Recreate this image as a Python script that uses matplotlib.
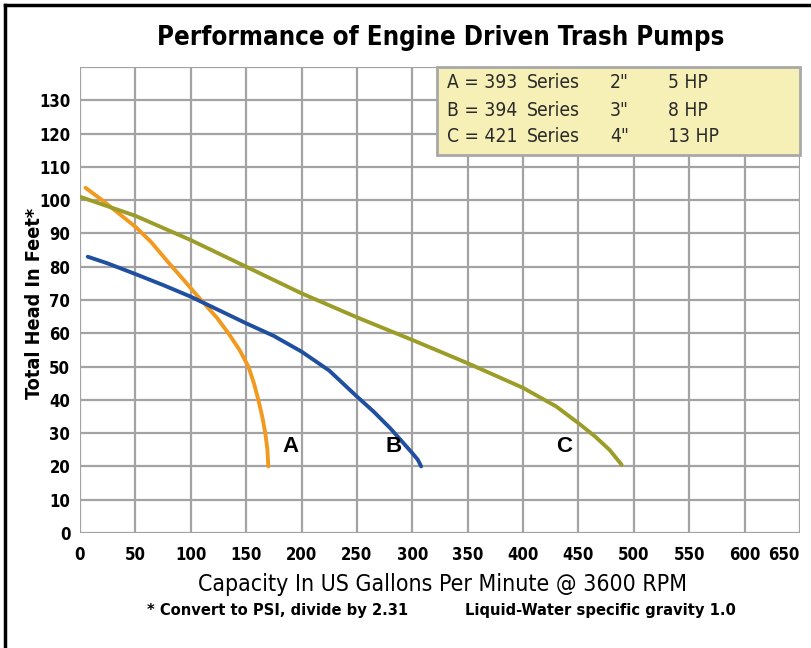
import matplotlib
matplotlib.use("Agg")
import matplotlib.pyplot as plt
from matplotlib.patches import Rectangle
from matplotlib.lines import Line2D
from matplotlib import font_manager as fm

# ---------------- data ----------------
x_ticks = list(range(0, 651, 50))
y_ticks = list(range(0, 131, 10))

A_x = [5, 20, 35, 50, 64, 80, 95, 104, 112, 124, 134, 144, 152, 157, 161, 164.5, 167.3, 169.2, 170]
A_y = [103.7, 100, 96, 92, 87.5, 81.2, 75.5, 72, 69, 64.5, 60, 55, 50, 45, 40, 35, 30, 25, 20]

B_x = [7, 25, 50, 75, 100, 125, 150, 175, 200, 225, 250, 265, 280, 292, 300, 305, 308]
B_y = [83, 81, 77.8, 74.5, 71, 67, 63, 59.2, 54.5, 48.8, 41, 36.5, 31.5, 27, 24, 22, 20]

C_x = [0, 50, 100, 150, 200, 250, 300, 350, 400, 430, 450, 465, 478, 489]
C_y = [101, 95.3, 88, 80, 72, 64.8, 58, 51, 43.6, 38, 33, 29, 25, 20.5]

series_labels = ["A", "B", "C"]
label_pos_x = [190, 283, 437]
label_pos_y = [26, 26, 26]

legend_rows = [
    ["A = 393", "Series", '2"', "5 HP"],
    ["B = 394", "Series", '3"', "8 HP"],
    ["C = 421", "Series", '4"', "13 HP"],
]

title = "Performance of Engine Driven Trash Pumps"
xlabel = "Capacity In US Gallons Per Minute @ 3600 RPM"
ylabel = "Total Head In Feet*"
note_left = "* Convert to PSI, divide by 2.31"
note_right = "Liquid-Water specific gravity 1.0"

# ---------------- font choice ----------------
def _has(family, stretch="normal"):
    try:
        return fm.findfont(fm.FontProperties(family=family, stretch=stretch), fallback_to_default=False)
    except Exception:
        return None

FONT = {"family": ["Liberation Sans", "DejaVu Sans"], "stretch": "normal"}
NARROW_OK = False
p = _has("Liberation Sans Narrow")
if p and "Narrow" in p:
    FONT = {"family": ["Liberation Sans Narrow", "DejaVu Sans"], "stretch": "normal"}
    NARROW_OK = True
else:
    p2 = _has("DejaVu Sans", "condensed")
    if p2 and "Condensed" in p2:
        FONT = {"family": ["DejaVu Sans"], "stretch": "condensed"}
        NARROW_OK = True

K = 1.0 if NARROW_OK else 0.84


def tx(x, y, s, size, bold=False, **kw):
    return fig.text(x / W, 1 - y / H, s, family=FONT["family"], fontstretch=FONT["stretch"],
                    fontweight="bold" if bold else "normal", fontsize=size * K, **kw)


# ---------------- style ----------------
col_A = "#F29A1F"
col_B = "#1F4F9E"
col_C = "#9C9C28"
grid_col = "#A3A3A3"

W, H = 812, 648
fig = plt.figure(figsize=(W / 100, H / 100), dpi=100)
fig.patch.set_facecolor("white")

fig.add_artist(Line2D([5 / W, 5 / W], [0, 1 - 5 / H], color="black", lw=2.5,
                      transform=fig.transFigure))
fig.add_artist(Line2D([5 / W, 1], [1 - 5 / H, 1 - 5 / H], color="black", lw=2.5,
                      transform=fig.transFigure))

left, right = 80 / W, 800 / W
bottom, top = 1 - 533 / H, 1 - 67 / H
ax = fig.add_axes([left, bottom, right - left, top - bottom])
ax.set_xlim(0, 650)
ax.set_ylim(0, 140)

for v in x_ticks:
    ax.axvline(v, color=grid_col, lw=1.6, zorder=1)
for v in list(y_ticks) + [140]:
    ax.axhline(v, color=grid_col, lw=1.6, zorder=1)
for s in ax.spines.values():
    s.set_visible(False)

ax.set_xticks(x_ticks)
ax.set_yticks(y_ticks)
ax.set_xticklabels([str(v) for v in x_ticks])
ax.set_yticklabels([str(v) for v in y_ticks])
for t in ax.get_xticklabels() + ax.get_yticklabels():
    t.set_family(FONT["family"])
    t.set_fontstretch(FONT["stretch"])
    t.set_fontweight("bold")
    t.set_fontsize(12 * K)
ax.get_xticklabels()[-1].set_horizontalalignment("right")
ax.tick_params(length=0)
ax.tick_params(axis="x", pad=9)
ax.tick_params(axis="y", pad=7)

for xs, ys, c in [(A_x, A_y, col_A), (B_x, B_y, col_B), (C_x, C_y, col_C)]:
    ax.plot(xs, ys, color=c, lw=2.8, solid_capstyle="round", solid_joinstyle="round", zorder=3)

for lab, lx, ly in zip(series_labels, label_pos_x, label_pos_y):
    ax.text(lx, ly, lab, fontsize=16, fontweight="bold", family=["Liberation Sans", "DejaVu Sans"],
            ha="center", va="center", zorder=4)

# legend box
bx0 = (437 - 80) / (800 - 80) * 650
bx1 = 650
by0 = 140 - (155 - 67) / (533 - 67) * 140
box = Rectangle((bx0, by0), bx1 - bx0, 140 - by0, facecolor="#F6F0B6",
                edgecolor="#A8A8A8", lw=2, zorder=5, clip_on=False)
ax.add_patch(box)

col_px = [447, 527, 610, 668]
row_px = [83, 110, 137]
for r, row in enumerate(legend_rows):
    for c, s in enumerate(row):
        tx(col_px[c], row_px[r], s, 13.8, ha="left", va="center", color="#2a2a2a", zorder=6)

tx(441, 38, title, 18.5, bold=True, ha="center", va="center")
tx(35, 303, ylabel, 14.2, bold=True, ha="center", va="center", rotation=90)
tx(443, 585, xlabel, 16.6, ha="center", va="center")
tx(278, 611, note_left, 11.8, bold=True, ha="center", va="center")
tx(600, 611, note_right, 11.8, bold=True, ha="center", va="center")

fig.savefig("out.png", dpi=100)
